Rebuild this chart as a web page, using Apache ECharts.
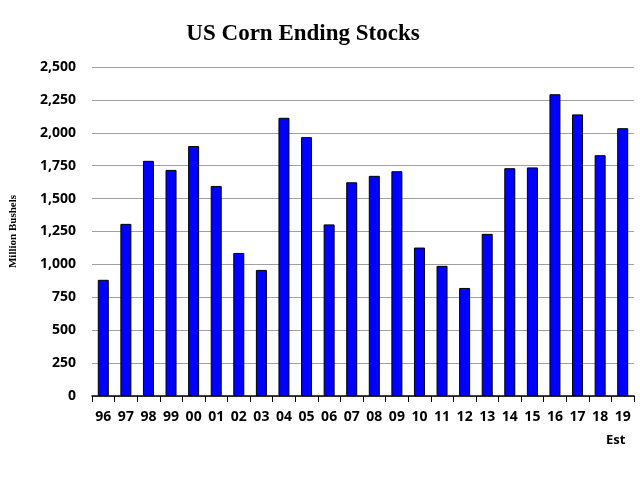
<!DOCTYPE html>
<html><head><meta charset="utf-8">
<script src="https://cdn.jsdelivr.net/npm/echarts@6/dist/echarts.min.js"></script>
<style>html,body{margin:0;padding:0;background:#fff}#c{width:640px;height:480px}</style>
</head><body><div id="c"></div>
<script>
var years = ['96','97','98','99','00','01','02','03','04','05','06','07','08','09','10','11','12','13','14','15','16','17','18','19'];
var stocks = [883,1308,1787,1718,1899,1596,1087,958,2114,1967,1304,1624,1673,1708,1128,989,821,1232,1731,1737,2293,2140,1830,2035];

var chart = echarts.init(document.getElementById('c'));
chart.setOption({
    backgroundColor: '#fff',
    animation: false,
    title: {
        text: 'US Corn Ending Stocks',
        left: 298, top: 18, textAlign: 'center',
        textStyle: {fontFamily: 'Liberation Serif', fontWeight: 'bold', fontSize: 23, color: '#000'}
    },
    grid: {left: 85, right: 6, top: 67, bottom: 84},
    xAxis: {
        type: 'category',
        data: years,
        axisLine: {lineStyle: {color: '#000', width: 1.5}},
        axisTick: {show: true, length: 6, lineStyle: {color: '#000'}},
        axisLabel: {
            color: '#000', fontFamily: 'Open Sans', fontWeight: 'bold', fontSize: 14, margin: 14,
            formatter: function (v) { return v; }
        }
    },
    yAxis: {
        type: 'value',
        min: 0, max: 2500, interval: 250,
        name: 'Million Bushels',
        nameLocation: 'middle', nameGap: 73,
        nameTextStyle: {fontFamily: 'Liberation Serif', fontWeight: 'bold', fontSize: 11, color: '#000'},
        axisLine: {show: false},
        axisTick: {show: false},
        axisLabel: {
            color: '#000', fontFamily: 'Open Sans', fontWeight: 'bold', fontSize: 14, margin: 16,
            formatter: function (v) { return v.toLocaleString('en-US'); }
        },
        splitLine: {lineStyle: {color: '#a0a0a0', width: 1}}
    },
    graphic: [{
        type: 'text', left: 606, top: 434,
        style: {text: 'Est', fill: '#000', font: 'bold 13px "Open Sans"'}
    }],
    series: [{
        type: 'bar',
        data: stocks,
        barWidth: 11,
        itemStyle: {color: '#0000ff', borderColor: '#000', borderWidth: 1}
    }]
});
</script></body></html>
